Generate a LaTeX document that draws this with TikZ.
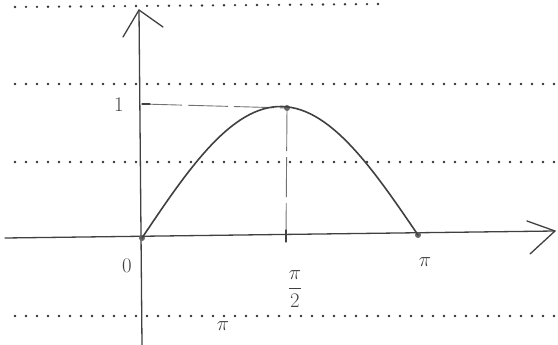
\documentclass[tikz,border=0pt]{standalone}
\usepackage{amsmath}
\usetikzlibrary{arrows.meta}

\begin{document}
\begin{tikzpicture}[x=1pt,y=-1pt,every node/.style={font=\huge,text=black!75},
  pen/.style={line width=1.3pt,draw=black!75,line cap=round,line join=round},
  ruled/.style={line width=2.6pt,draw=black!80,dash pattern=on 0pt off 11pt,line cap=round},
  guide/.style={line width=0.9pt,draw=black!55,dash pattern=on 40pt off 6pt},
  dot/.style={circle,fill=black!60,inner sep=0pt,minimum size=6pt}]
  \useasboundingbox (0,0) rectangle (558,345);
  % notebook rows
  \draw[ruled] (15,7) -- (380,4);
  \foreach \y in {84,162,316}
    \draw[ruled] (15,\y) -- (558,\y);
  % axes
  \coordinate (xbeg) at (5,238);
  \coordinate (xtip) at (555,231);
  \coordinate (ybot) at (142,345);
  \coordinate (ytip) at (139,10);
  \draw[pen] (xbeg) -- (xtip);
  \draw[pen] (ybot) -- (ytip);
  \draw[pen] (xtip) ++(-28,-10) -- (xtip) -- ++(-25,23);
  \draw[pen] (ytip) ++(-16,27) -- (ytip) -- ++(24,17);
  % the curve
  \node[dot] (O) at (142,238) {};
  \node[dot] (peak) at (287,108) {};
  \node[dot] (pi) at (418,235) {};
  \coordinate (one) at (142,104);
  \coordinate (half) at (286,236);
  \draw[guide] (one) -- (peak);
  \draw[guide] (peak) -- (half);
  \draw[pen] (one) -- ++(8,0);
  \draw[pen] (half) ++(0,-6) -- ++(0,12);
  \draw[pen,line width=1.6pt] plot[domain=0:180,samples=60]
    ({142+\x/180*276},{238-130*sin(\x)-3*\x/180});
  % labels
  \node (lone) at (119,105) {$1$};
  \node (lzero) at (127,266) {$0$};
  \node (lhalf) at (295,289) {$\dfrac{\pi}{2}$};
  \node (lpi) at (425,262) {$\pi$};
  \node (lbot) at (223,326) {$\pi$};
\end{tikzpicture}
\end{document}
